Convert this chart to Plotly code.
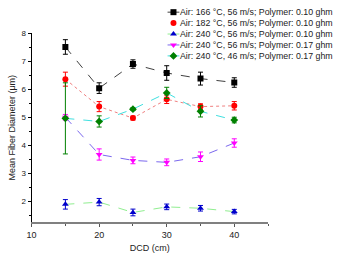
import plotly.graph_objects as go

dcd = [15, 20, 25, 30, 35, 40]

labels = [
    "Air: 166 °C, 56 m/s; Polymer: 0.10 ghm",
    "Air: 182 °C, 56 m/s; Polymer: 0.10 ghm",
    "Air: 240 °C, 56 m/s; Polymer: 0.10 ghm",
    "Air: 240 °C, 56 m/s; Polymer: 0.17 ghm",
    "Air: 240 °C, 46 m/s; Polymer: 0.17 ghm",
]

s1 = [7.51, 6.04, 6.90, 6.58, 6.38, 6.24]
s1_err = [0.26, 0.19, 0.15, 0.26, 0.23, 0.17]
s2 = [6.36, 5.38, 4.97, 5.64, 5.38, 5.41]
s2_err = [0.25, 0.18, 0.07, 0.15, 0.10, 0.15]
s3 = [1.89, 1.97, 1.60, 1.80, 1.75, 1.63]
s3_err = [0.17, 0.13, 0.12, 0.10, 0.10, 0.08]
s4 = [5.00, 3.67, 3.46, 3.39, 3.59, 4.08]
s4_err = [0.10, 0.20, 0.12, 0.12, 0.17, 0.15]
s5 = [4.96, 4.85, 5.29, 5.87, 5.21, 4.90]
s5_err = [1.27, 0.20, 0.05, 0.20, 0.20, 0.10]

series = [s1, s2, s3, s4, s5]
errors = [s1_err, s2_err, s3_err, s4_err, s5_err]
marker_colors = ["#000000", "#ff0000", "#0000cc", "#ff00ff", "#008000"]
line_colors = ["#404040", "#f08080", "#90ee90", "#7b68ee", "#40e0e0"]
line_dash = ["dash", "dot", "dash", "dash", "dash"]
symbols = ["square", "circle", "triangle-up", "triangle-down", "diamond"]

W, H = 338, 258
L, R, T, B = 27, 267, 29.7, 221.7
FONT = "Liberation Sans, Arial, sans-serif"

fig = go.Figure()
for i in range(5):
    fig.add_trace(go.Scatter(
        x=dcd, y=series[i], mode="lines+markers", name=labels[i],
        line=dict(color=line_colors[i], width=1, dash=line_dash[i]),
        marker=dict(symbol=symbols[i], size=6, color=marker_colors[i]),
        error_y=dict(type="data", array=errors[i], color=marker_colors[i],
                     thickness=1, width=2.5),
        showlegend=False,
    ))

# custom compact legend drawn in pixel coordinates on an overlay axis
lx0, lx1, ltext = 165, 177, 177
ly0, ldy = 8.3, 11.1
for i in range(5):
    yy = ly0 + i * ldy
    if i != 1:
        fig.add_trace(go.Scatter(
            x=[lx0, lx1], y=[yy, yy], xaxis="x2", yaxis="y2", mode="lines",
            line=dict(color=line_colors[i], width=1), showlegend=False,
            hoverinfo="skip"))
    fig.add_trace(go.Scatter(
        x=[(lx0 + lx1) / 2], y=[yy], xaxis="x2", yaxis="y2", mode="markers",
        marker=dict(symbol=symbols[i], size=6, color=marker_colors[i]),
        showlegend=False, hoverinfo="skip", cliponaxis=False))
    fig.add_annotation(x=ltext, y=yy, xref="x2", yref="y2", text=labels[i],
                       showarrow=False, xanchor="left", yanchor="middle",
                       borderpad=0,
                       font=dict(size=8.8, color="#222222", family=FONT))

fig.update_layout(
    width=W, height=H,
    margin=dict(l=0, r=0, t=0, b=0),
    paper_bgcolor="white", plot_bgcolor="rgba(0,0,0,0)",
    font=dict(family=FONT, size=9, color="#222222"),
    xaxis=dict(
        domain=[L / W, R / W], range=[10, 45], anchor="y",
        tickvals=[10, 20, 30, 40], ticks="outside", ticklen=3,
        tickcolor="#555555", showline=True, linecolor="#808080", linewidth=2,
        showgrid=False, zeroline=False,
        minor=dict(dtick=5, tick0=10, ticks="outside", ticklen=2, tickcolor="#555555"),
        tickfont=dict(size=9, color="#222222"),
        title=dict(text="DCD (cm)", font=dict(size=9, color="#222222"), standoff=6),
    ),
    yaxis=dict(
        domain=[(H - B) / H, (H - T) / H], range=[1.25, 8], anchor="x",
        tickvals=[2, 3, 4, 5, 6, 7, 8], ticks="outside", ticklen=3,
        tickcolor="#000000", showline=True, linecolor="#000000", linewidth=1,
        showgrid=False, zeroline=False,
        minor=dict(dtick=0.5, tick0=2, ticks="outside", ticklen=2, tickcolor="#000000"),
        tickfont=dict(size=8, color="#222222"),
        title=dict(text="Mean Fiber Diameter (μm)", font=dict(size=9, color="#222222"), standoff=4),
    ),
    xaxis2=dict(domain=[0, 1], range=[0, W], visible=False, anchor="y2", fixedrange=True),
    yaxis2=dict(domain=[0, 1], range=[H, 0], visible=False, anchor="x2", fixedrange=True),
)

fig.write_html("out.html")
